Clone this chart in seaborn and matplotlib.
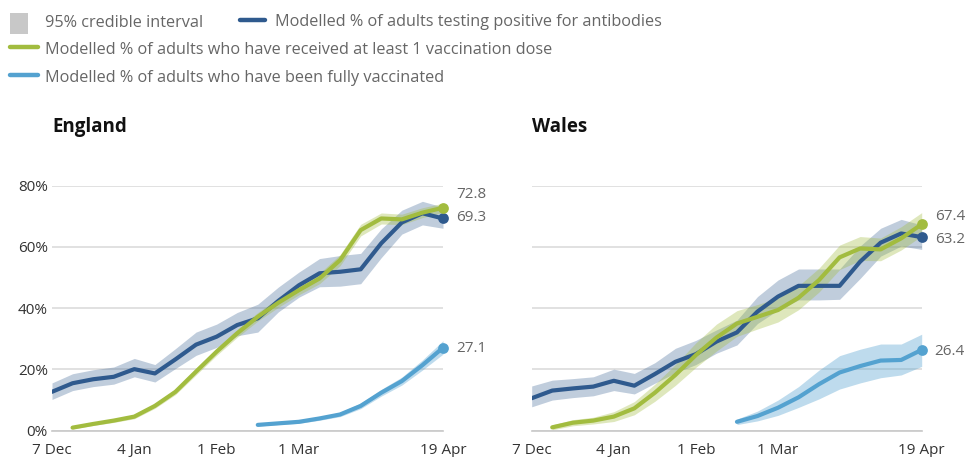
import numpy as np
import pandas as pd
import matplotlib
matplotlib.use("Agg")
import matplotlib.pyplot as plt
from matplotlib.patches import Rectangle
from matplotlib.lines import Line2D
import seaborn as sns

# ---------------- data ----------------
dates = pd.date_range("2020-12-07", periods=20, freq="7D")
tick_dates = pd.to_datetime(["2020-12-07", "2021-01-04", "2021-02-01", "2021-03-01", "2021-04-19"])
tick_labels = ["7 Dec", "4 Jan", "1 Feb", "1 Mar", "19 Apr"]
y_ticks = [0, 20, 40, 60, 80]
y_tick_labels = ["0%", "20%", "40%", "60%", "80%"]

series_names = [
    "Modelled % of adults testing positive for antibodies",
    "Modelled % of adults who have received at least 1 vaccination dose",
    "Modelled % of adults who have been fully vaccinated",
]
band_label = "95% credible interval"

N = np.nan
# England
eng_anti = [12.7, 15.5, 16.8, 17.6, 20.1, 18.7, 23.3, 28.1, 30.7, 34.5, 36.7, 42.4, 47.5, 51.4, 51.9, 52.7, 61.2, 68.0, 71.0, 69.3]
eng_anti_lo = [10.2, 13.1, 14.4, 15.2, 17.6, 15.9, 20.3, 24.6, 27.2, 31.0, 32.2, 38.8, 43.6, 47.0, 47.2, 48.0, 56.5, 64.2, 67.2, 66.1]
eng_anti_hi = [15.6, 18.6, 19.9, 20.8, 23.6, 21.6, 26.8, 32.2, 34.8, 38.6, 41.3, 46.9, 51.8, 56.2, 57.2, 57.9, 65.9, 72.0, 74.9, 73.0]
eng_dose1 = [N, 1.0, 2.2, 3.3, 4.6, 8.1, 12.7, 19.3, 25.8, 31.8, 37.2, 41.8, 45.9, 49.7, 55.7, 65.5, 69.3, 69.0, 71.2, 72.8]
eng_dose1_lo = [N, 0.6, 1.7, 2.7, 3.9, 7.3, 11.8, 18.2, 24.6, 30.5, 35.8, 40.3, 44.4, 48.0, 53.9, 63.6, 67.5, 67.3, 69.6, 71.3]
eng_dose1_hi = [N, 1.4, 2.7, 3.9, 5.3, 8.9, 13.6, 20.4, 27.0, 33.1, 38.6, 43.3, 47.4, 51.4, 57.5, 67.4, 71.1, 70.7, 72.8, 74.3]
eng_full = [N, N, N, N, N, N, N, N, N, N, 1.9, 2.4, 2.9, 4.0, 5.3, 8.1, 12.4, 16.2, 21.4, 27.1]
eng_full_lo = [N, N, N, N, N, N, N, N, N, N, 1.5, 2.0, 2.4, 3.4, 4.6, 7.2, 11.3, 14.9, 19.8, 25.0]
eng_full_hi = [N, N, N, N, N, N, N, N, N, N, 2.3, 2.8, 3.4, 4.6, 6.0, 9.0, 13.5, 17.5, 23.1, 29.4]

# Wales
wal_anti = [10.6, 13.1, 13.8, 14.4, 16.3, 14.7, 18.5, 22.5, 25.0, 29.1, 32.1, 38.9, 43.8, 47.3, 47.3, 47.3, 55.2, 61.4, 64.4, 63.2]
wal_anti_lo = [7.8, 10.0, 10.8, 11.4, 13.1, 12.0, 15.5, 18.9, 21.6, 25.3, 28.0, 35.0, 39.4, 42.7, 42.7, 42.9, 49.7, 57.0, 60.3, 59.2]
wal_anti_hi = [14.6, 16.5, 17.0, 17.6, 20.1, 18.7, 22.2, 26.9, 29.5, 32.9, 36.1, 43.8, 49.2, 52.8, 52.8, 52.8, 60.3, 66.1, 69.0, 67.2]
wal_dose1 = [N, 1.1, 2.6, 3.3, 4.6, 7.3, 12.4, 18.2, 24.7, 30.4, 35.0, 37.2, 39.4, 43.4, 49.2, 56.6, 59.5, 59.2, 62.8, 67.4]
wal_dose1_lo = [N, 0.3, 1.6, 2.2, 3.0, 5.2, 9.6, 14.8, 20.7, 26.0, 30.8, 33.2, 35.5, 39.5, 45.3, 52.6, 55.6, 55.5, 59.0, 63.6]
wal_dose1_hi = [N, 1.9, 3.6, 4.4, 6.2, 9.5, 15.2, 21.6, 28.7, 34.8, 39.2, 41.2, 43.3, 47.3, 53.1, 60.6, 63.4, 62.9, 66.6, 71.2]
wal_full = [N, N, N, N, N, N, N, N, N, N, 2.9, 4.8, 7.5, 10.9, 15.2, 19.0, 21.1, 22.9, 23.1, 26.4]
wal_full_lo = [N, N, N, N, N, N, N, N, N, N, 2.0, 3.2, 5.0, 7.6, 10.4, 13.6, 15.6, 17.3, 18.2, 21.0]
wal_full_hi = [N, N, N, N, N, N, N, N, N, N, 3.8, 6.4, 10.0, 14.4, 19.8, 24.5, 26.6, 28.3, 28.3, 31.5]

countries = ["England", "Wales"]
# label y-position (data units) for end-value labels, to avoid overlaps
label_y = {
    "England": [69.5, 77.0, 26.7],
    "Wales": [62.3, 69.8, 25.7],
}

data = {
    "England": [(eng_anti, eng_anti_lo, eng_anti_hi), (eng_dose1, eng_dose1_lo, eng_dose1_hi), (eng_full, eng_full_lo, eng_full_hi)],
    "Wales": [(wal_anti, wal_anti_lo, wal_anti_hi), (wal_dose1, wal_dose1_lo, wal_dose1_hi), (wal_full, wal_full_lo, wal_full_hi)],
}

line_colors = ["#2f5a8e", "#a2bc3f", "#54a2d0"]
band_alphas = [0.30, 0.35, 0.38]

rows = []
for c in countries:
    for name, (vals, lo, hi) in zip(series_names, data[c]):
        for d, v, l, h in zip(dates, vals, lo, hi):
            rows.append({"country": c, "series": name, "date": d, "value": v, "lo": l, "hi": h})
df = pd.DataFrame(rows)

# ---------------- style ----------------
sns.set_theme(style="white")
plt.rcParams["font.family"] = ["Open Sans", "DejaVu Sans"]

W, H = 966, 457
fig = plt.figure(figsize=(W / 100, H / 100), dpi=100)

ax_px = {"England": (52, 443), "Wales": (531.7, 921.7)}
y0_px, y80_px = 430.7, 185.7

grid_col = "#dcdcdc"
tick_text = "#333333"
soft_text = "#666666"

for c in countries:
    x0, x1 = ax_px[c]
    ax = fig.add_axes([x0 / W, (H - y0_px) / H, (x1 - x0) / W, (y0_px - y80_px) / H])
    sub = df[df.country == c]
    palette = dict(zip(series_names, line_colors))
    for name, col, a in zip(series_names, line_colors, band_alphas):
        s = sub[sub.series == name].dropna()
        ax.fill_between(s["date"], s["lo"], s["hi"], color=col, alpha=a, lw=0, zorder=2)
    sns.lineplot(data=sub.dropna(), x="date", y="value", hue="series", palette=palette,
                 estimator=None, lw=3.0, legend=False, ax=ax, zorder=3)
    for i, (name, col) in enumerate(zip(series_names, line_colors)):
        s = sub[sub.series == name].dropna()
        last = s.iloc[-1]
        ax.scatter([last["date"]], [last["value"]], s=60, color=col, zorder=4, lw=0, clip_on=False)
        ax.annotate(f"{last['value']:.1f}", xy=(last["date"], label_y[c][i]),
                    xytext=(13, 0), textcoords="offset pixels", va="center", ha="left",
                    fontsize=11, color=soft_text, annotation_clip=False)

    ax.set_xlim(dates[0], dates[-1])
    ax.set_ylim(0, 80)
    ax.set_yticks(y_ticks)
    ax.yaxis.grid(True, color=grid_col, lw=1.2)
    ax.set_axisbelow(True)
    if c == "England":
        ax.set_yticklabels(y_tick_labels)
    else:
        ax.set_yticklabels([])
    ax.tick_params(axis="y", length=0, pad=3, labelsize=11, labelcolor=tick_text)
    ax.set_xticks(tick_dates)
    ax.set_xticklabels(tick_labels)
    ax.tick_params(axis="x", length=7, width=1.2, color="#c8c8c8", pad=2, labelsize=11, labelcolor=tick_text)
    for sp in ["top", "right", "left"]:
        ax.spines[sp].set_visible(False)
    ax.spines["bottom"].set_color("#c8c8c8")
    ax.spines["bottom"].set_linewidth(1.2)
    ax.set_xlabel("")
    ax.set_ylabel("")
    ax.text(0, (y0_px - 127) / (y0_px - y80_px), c, transform=ax.transAxes, fontsize=13.5,
            fontweight="bold", color="#111111", va="center", ha="left")

# ---------------- legend (figure coordinates in pixels) ----------------
def fx(p):
    return p / W

def fy(p):
    return (H - p) / H

fig.patches.append(Rectangle((fx(10), fy(34)), 18 / W, 21 / H, transform=fig.transFigure,
                             color="#c8c8c8", lw=0))
fig.text(fx(45), fy(23), band_label, fontsize=11.7, color=soft_text, va="center")
leg_lines = [((240, 265), 20, 275, 0), ((10, 38), 47, 45, 1), ((10, 38), 75, 45, 2)]
for (xa, xb), yy, tx, i in leg_lines:
    fig.lines.append(Line2D([fx(xa), fx(xb)], [fy(yy), fy(yy)], transform=fig.transFigure,
                            color=line_colors[i], lw=3.2))
    fig.text(fx(tx), fy(yy + 2.5), series_names[i], fontsize=11.7, color=soft_text, va="center")

fig.savefig("out.png", dpi=100)
